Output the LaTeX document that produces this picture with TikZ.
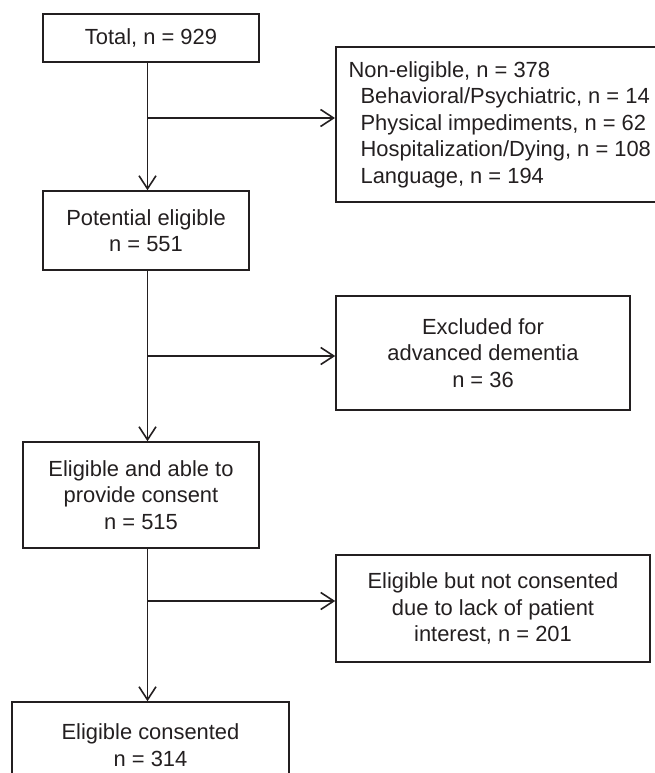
\documentclass[tikz,border=0pt]{standalone}
\usepackage{fontspec}
\setmainfont{Liberation Sans}
\usetikzlibrary{arrows.meta}
\definecolor{ink}{RGB}{35,31,32}
\begin{document}
\begin{tikzpicture}[x=1pt,y=-1pt,
  every node/.style={font=\fontsize{21.9}{26.5}\selectfont, text=ink},
  box/.style={draw=ink, line width=1.6pt, rectangle, inner sep=0pt, align=center},
  conn/.style={draw=ink, line width=1.6pt},
  arr/.style={conn, -{Straight Barb[length=13pt,width=17pt,line width=1.6pt]}}
]
\useasboundingbox (0,0) rectangle (655,773);
\node[box, minimum width=216pt, minimum height=48pt] (tot) at (151,38) {Total, n = 929};
\node[box, minimum width=328pt, minimum height=155pt, align=left, anchor=west, inner xsep=12pt] (non) at (335,124.5)
  {Non-eligible, n = 378\\
   \hspace*{12pt}Behavioral/Psychiatric, n = 14\\
   \hspace*{12pt}Physical impediments, n = 62\\
   \hspace*{12pt}Hospitalization/Dying, n = 108\\
   \hspace*{12pt}Language, n = 194};
\node[box, minimum width=206pt, minimum height=79pt] (pot) at (146,230.5) {Potential eligible\\n = 551};
\node[box, minimum width=294pt, minimum height=114pt] (exc) at (483,353) {Excluded for\\advanced dementia\\n = 36};
\node[box, minimum width=236pt, minimum height=106pt] (elig) at (141,495) {Eligible and able to\\provide consent\\n = 515};
\node[box, minimum width=314pt, minimum height=107pt] (nc) at (493,608.5) {Eligible but not consented\\due to lack of patient\\interest, n = 201};
\node[box, minimum width=277pt, minimum height=86pt] (fin) at (150.5,745) {Eligible consented\\n = 314};
\coordinate (b1) at (147.5,118);
\coordinate (b2) at (147.5,356);
\coordinate (b3) at (147.5,601);
\draw[arr] (b1 |- tot.south) -- (b1 |- pot.north);
\draw[arr] (b1) -- (b1 -| non.west);
\draw[arr] (b2 |- pot.south) -- (b2 |- elig.north);
\draw[arr] (b2) -- (b2 -| exc.west);
\draw[arr] (b3 |- elig.south) -- (b3 |- fin.north);
\draw[arr] (b3) -- (b3 -| nc.west);
\end{tikzpicture}
\end{document}
